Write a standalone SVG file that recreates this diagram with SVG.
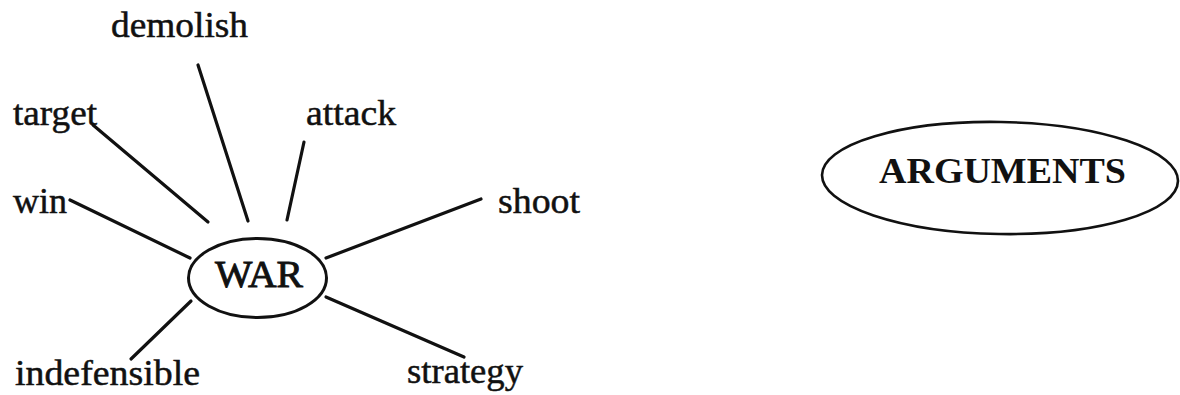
<svg xmlns="http://www.w3.org/2000/svg" width="1180" height="395" viewBox="0 0 1180 395">
  <style>
    .lbl { font-family: "Liberation Serif", "Times New Roman", serif; font-size: 36px; fill: #111; stroke: #111; stroke-width: 0.5; }
    .hub { font-family: "Liberation Serif", "Times New Roman", serif; fill: #111; stroke: #111; stroke-width: 0.9; }
    .ring { fill: none; stroke: #111; stroke-width: 3; }
    .spoke { stroke: #111; stroke-width: 3.2; stroke-linecap: round; fill: none; }
  </style>
  <rect width="1180" height="395" fill="#fff"/>

  <!-- spokes radiating from WAR -->
  <g id="connectors">
    <line class="spoke" x1="198" y1="65" x2="248" y2="221"/>
    <line class="spoke" x1="304" y1="142" x2="287" y2="220"/>
    <line class="spoke" x1="93" y1="125" x2="208" y2="222"/>
    <line class="spoke" x1="70" y1="200" x2="190" y2="258"/>
    <line class="spoke" x1="481" y1="199" x2="326" y2="258"/>
    <line class="spoke" x1="326" y1="297" x2="464" y2="357"/>
    <line class="spoke" x1="131" y1="359" x2="191" y2="301"/>
  </g>

  <g id="war">
    <ellipse class="ring" cx="257.5" cy="278" rx="69" ry="39.5"/>
    <text class="hub" x="215" y="287" font-size="38" textLength="88" lengthAdjust="spacingAndGlyphs">WAR</text>
  </g>

  <g id="demolish"><text class="lbl" x="111" y="37" textLength="137" lengthAdjust="spacingAndGlyphs">demolish</text></g>
  <g id="target"><text class="lbl" x="13" y="125" textLength="84" lengthAdjust="spacingAndGlyphs">target</text></g>
  <g id="attack"><text class="lbl" x="306" y="125" textLength="90" lengthAdjust="spacingAndGlyphs">attack</text></g>
  <g id="win"><text class="lbl" x="13" y="213" textLength="54" lengthAdjust="spacingAndGlyphs">win</text></g>
  <g id="shoot"><text class="lbl" x="498" y="213" textLength="82" lengthAdjust="spacingAndGlyphs">shoot</text></g>
  <g id="indefensible"><text class="lbl" x="15" y="385" textLength="185" lengthAdjust="spacingAndGlyphs">indefensible</text></g>
  <g id="strategy"><text class="lbl" x="407" y="383" textLength="116" lengthAdjust="spacingAndGlyphs">strategy</text></g>

  <g id="arguments">
    <ellipse cx="1000" cy="178" rx="178" ry="56" transform="rotate(1 1000 178)" fill="none" stroke="#111" stroke-width="2.6"/>
    <text x="879" y="183" font-family="Liberation Serif, 'Times New Roman', serif" font-weight="bold" font-size="36" fill="#111" textLength="247" lengthAdjust="spacingAndGlyphs">ARGUMENTS</text>
  </g>
</svg>
